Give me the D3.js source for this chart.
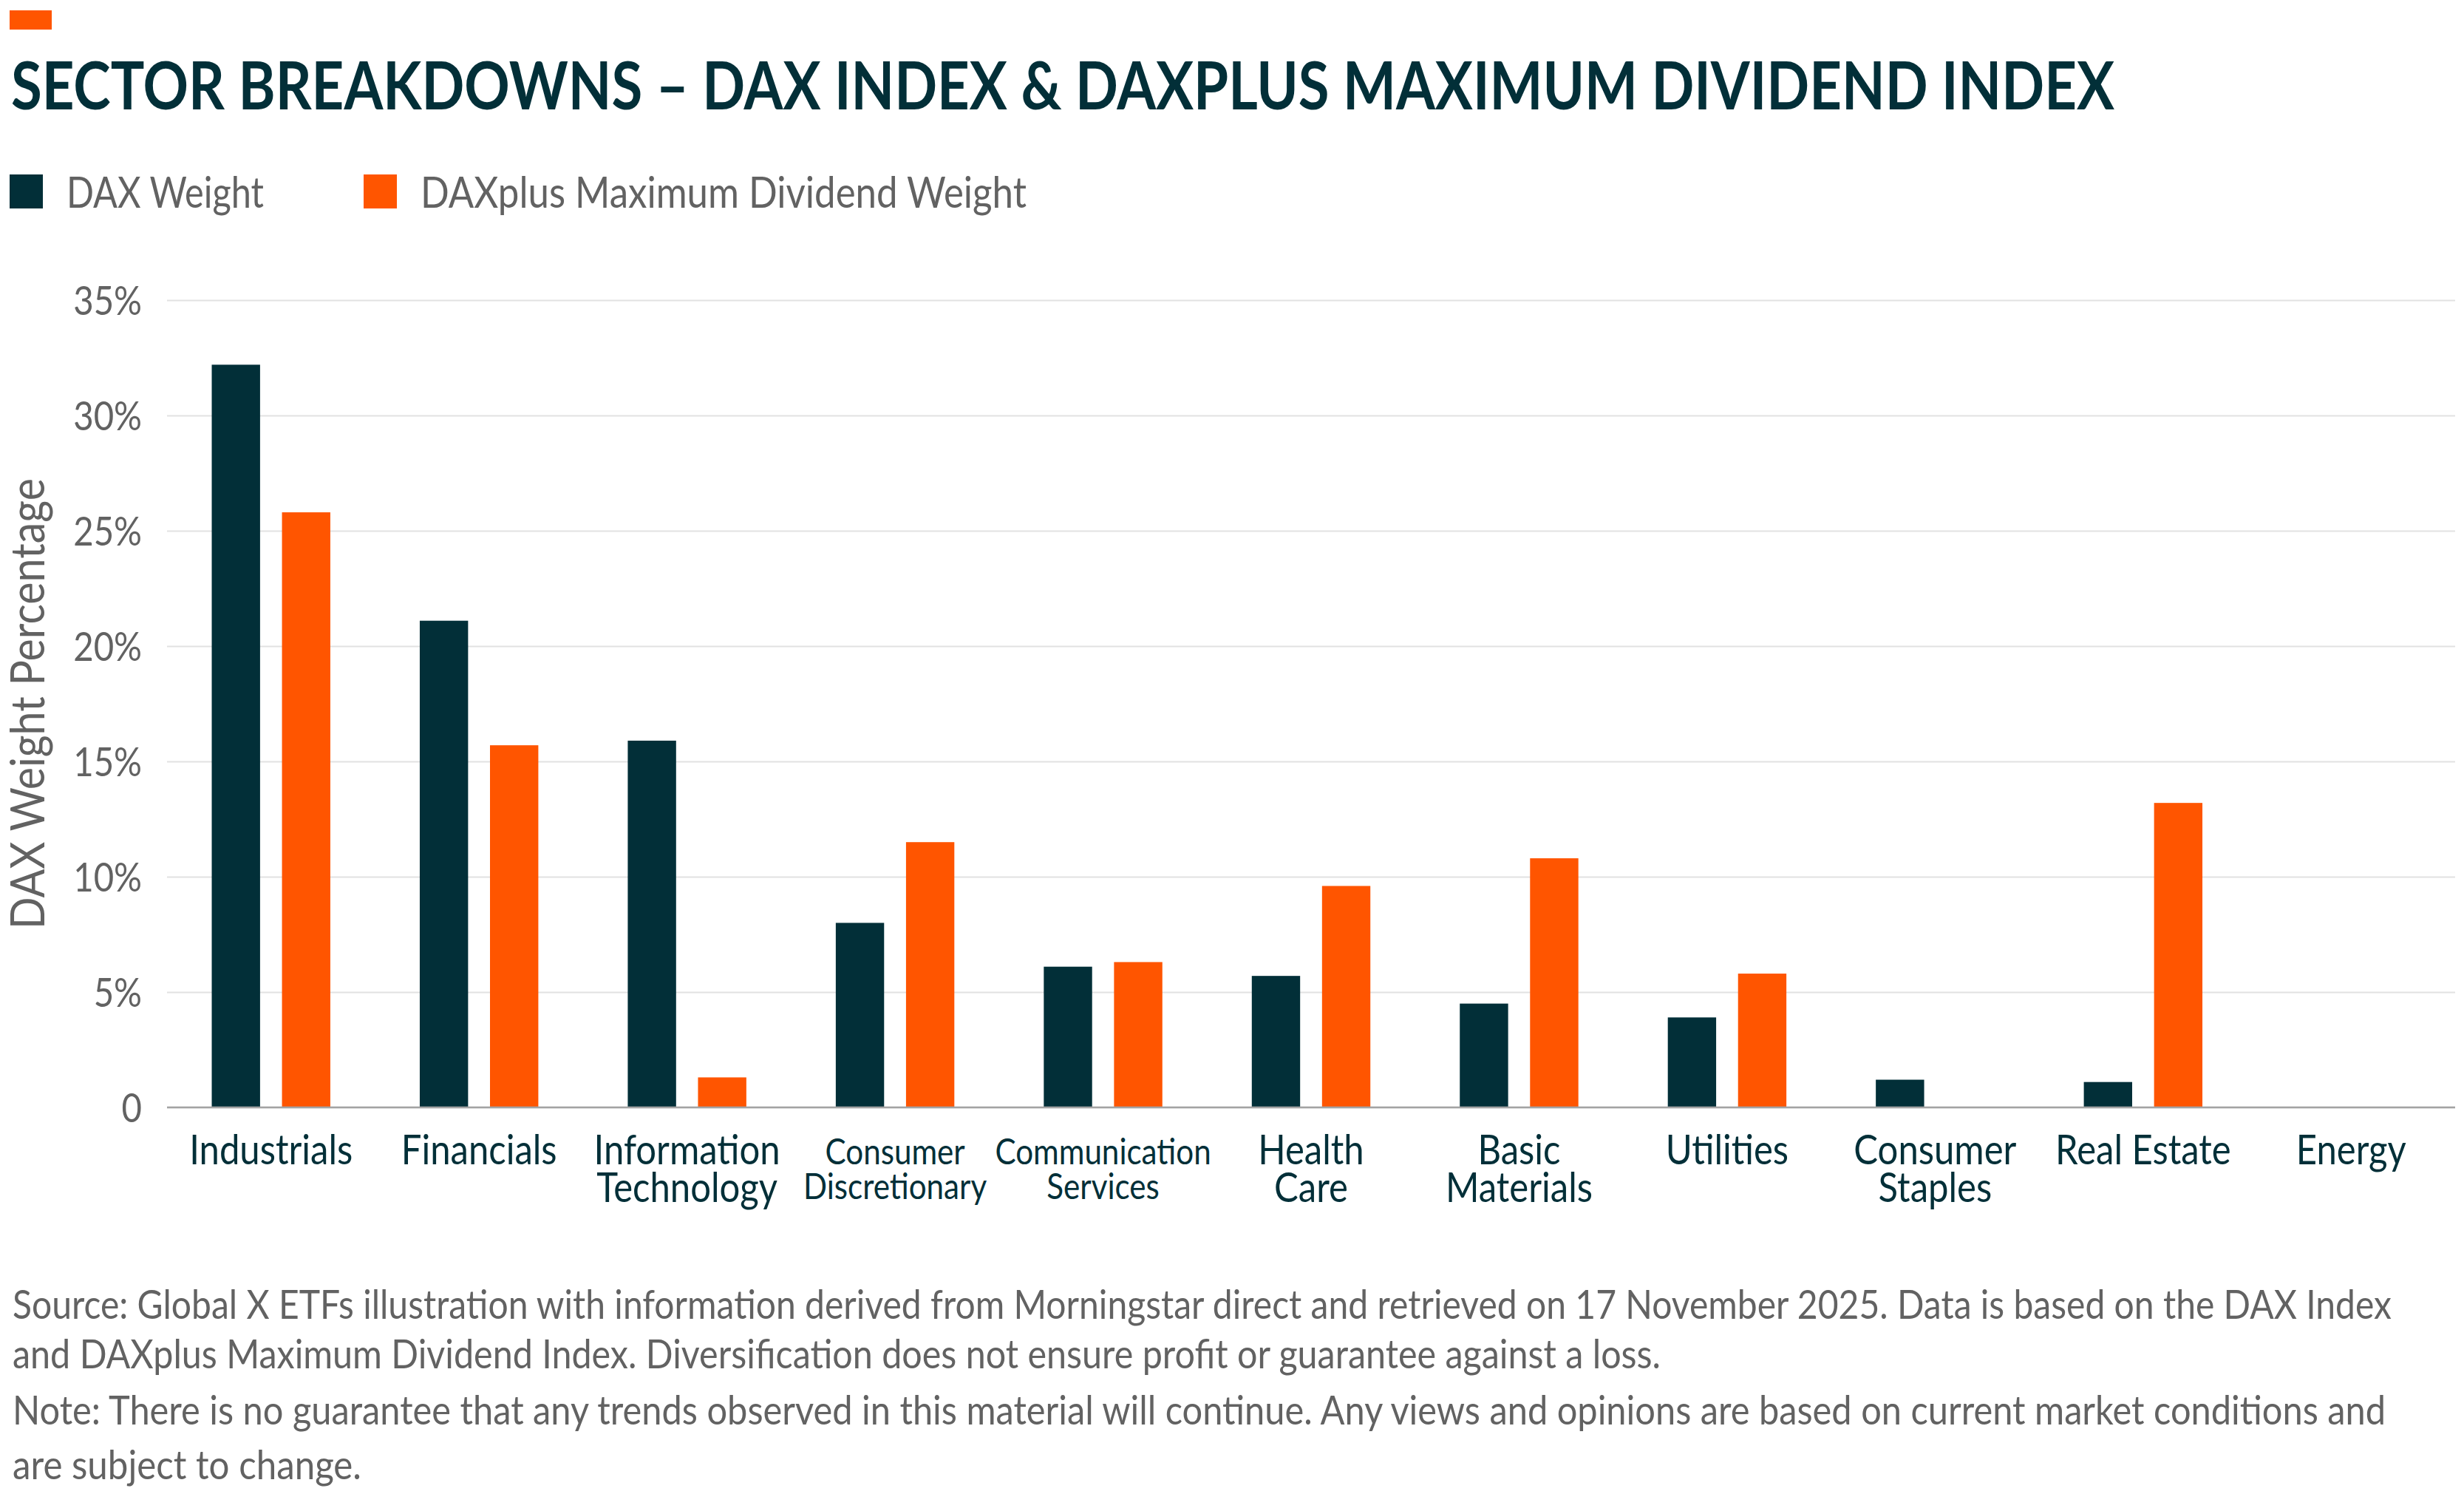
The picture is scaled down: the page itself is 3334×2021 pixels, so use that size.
<!DOCTYPE html>
<html>
<head>
<meta charset="utf-8">
<script src="https://cdn.jsdelivr.net/npm/d3@7"></script>
<style>
  body { margin: 0; background: #fff; }
  text { font-family: Lato, "Open Sans", sans-serif; }
</style>
</head>
<body>
<div id="chart"></div>
<script>
// data
var categories = ["Industrials", "Financials", "Information Technology", "Consumer Discretionary",
  "Communication Services", "Health Care", "Basic Materials", "Utilities", "Consumer Staples",
  "Real Estate", "Energy"];
var categoryLines = [["Industrials"], ["Financials"], ["Information", "Technology"], ["Consumer", "Discretionary"],
  ["Communication", "Services"], ["Health", "Care"], ["Basic", "Materials"], ["Utilities"], ["Consumer", "Staples"],
  ["Real Estate"], ["Energy"]];
var daxWeight = [32.2, 21.1, 15.9, 8.0, 6.1, 5.7, 4.5, 3.9, 1.2, 1.1, 0];
var maxDivWeight = [25.8, 15.7, 1.3, 11.5, 6.3, 9.6, 10.8, 5.8, 0, 13.2, 0];
var seriesNames = ["DAX Weight", "DAXplus Maximum Dividend Weight"];
var yTicks = [0, 5, 10, 15, 20, 25, 30, 35];

var title = "SECTOR BREAKDOWNS \u2013 DAX INDEX & DAXPLUS MAXIMUM DIVIDEND INDEX";
var footLines = [
  "Source: Global X ETFs illustration with information derived from Morningstar direct and retrieved on 17 November 2025. Data is based on the DAX Index",
  "and DAXplus Maximum Dividend Index. Diversification does not ensure profit or guarantee against a loss.",
  "Note: There is no guarantee that any trends observed in this material will continue. Any views and opinions are based on current market conditions and",
  "are subject to change."
];

var W = 3334, H = 2021;
var dark = "#022f38", orange = "#ff5500", grey = "#626262";
var plot = {left: 226, right: 3322, top: 406, bottom: 1498};

// the reference font runs narrower than Lato, squeeze text to fit
function squeeze(sel, k) {
  sel.each(function() {
    var w = this.getComputedTextLength();
    d3.select(this).attr("textLength", w * k).attr("lengthAdjust", "spacingAndGlyphs");
  });
}
function fitTo(sel, w) {
  sel.attr("textLength", w).attr("lengthAdjust", "spacingAndGlyphs");
}

var svg = d3.select("#chart").append("svg")
  .attr("width", W).attr("height", H)
  .style("background", "#fff");

// orange accent and title
svg.append("rect").attr("x", 13).attr("y", 14).attr("width", 57).attr("height", 26).attr("fill", orange);
svg.append("text").attr("x", 15).attr("y", 148)
  .attr("font-size", 89).attr("font-weight", 700).attr("fill", dark)
  .text(title).call(fitTo, 2846);

// legend
var legendX = [13, 492], legendW = [267, 820];
var colors = [dark, orange];
seriesNames.forEach(function(s, i) {
  svg.append("rect").attr("x", legendX[i]).attr("y", 236).attr("width", 45).attr("height", 46).attr("fill", colors[i]);
  svg.append("text").attr("x", legendX[i] + 77).attr("y", 281)
    .attr("font-size", 58).attr("fill", grey).text(s).call(fitTo, legendW[i]);
});

// scales
var x0 = d3.scaleBand().domain(categories).range([plot.left, plot.right])
  .paddingInner(0.43).paddingOuter(0.215);
var x1 = d3.scaleBand().domain(seriesNames).range([0, x0.bandwidth()]).paddingInner(0.312);
var y = d3.scaleLinear().domain([0, 35]).range([plot.bottom, plot.top]);

// y axis with gridlines
var yAxis = d3.axisLeft(y).tickValues(yTicks)
  .tickSize(-(plot.right - plot.left)).tickPadding(34)
  .tickFormat(function(d) { return d === 0 ? "0" : d + "%"; });
var gy = svg.append("g").attr("transform", "translate(" + plot.left + ",0)").call(yAxis);
gy.select(".domain").remove();
gy.selectAll(".tick line").attr("stroke", "#e2e2e2").attr("stroke-width", 2);
gy.selectAll(".tick text").attr("font-size", 55).attr("fill", grey)
  .attr("font-family", "Lato, sans-serif").attr("dy", "0.35em").call(squeeze, 0.86);

// y title
svg.append("text")
  .attr("transform", "translate(60," + ((plot.top + plot.bottom) / 2) + ") rotate(-90)")
  .attr("text-anchor", "middle").attr("font-size", 64).attr("fill", grey)
  .text("DAX Weight Percentage").call(fitTo, 610);

// bars
var rows = categories.map(function(c, i) {
  return {cat: c, values: [daxWeight[i], maxDivWeight[i]]};
});
var groups = svg.append("g").selectAll("g").data(rows).join("g")
  .attr("transform", function(d) { return "translate(" + x0(d.cat) + ",0)"; });
groups.selectAll("rect")
  .data(function(d) { return d.values.map(function(v, j) { return {s: seriesNames[j], v: v, j: j}; }); })
  .join("rect")
  .attr("x", function(d) { return x1(d.s); })
  .attr("y", function(d) { return y(d.v); })
  .attr("width", x1.bandwidth())
  .attr("height", function(d) { return y(0) - y(d.v); })
  .attr("fill", function(d) { return colors[d.j]; });

// baseline
svg.append("line").attr("x1", plot.left).attr("x2", plot.right)
  .attr("y1", y(0)).attr("y2", y(0)).attr("stroke", "#a3a3a3").attr("stroke-width", 2.5);

// category labels
var xAxis = d3.axisBottom(x0).tickSize(0).tickFormat("");
var gx = svg.append("g").attr("transform", "translate(0," + y(0) + ")").call(xAxis);
gx.select(".domain").remove();
var smallOnes = ["Consumer Discretionary", "Communication Services"];
gx.selectAll(".tick").each(function(d, i) {
  var small = smallOnes.indexOf(d) >= 0;
  var t = d3.select(this).append("text")
    .attr("text-anchor", "middle").attr("fill", dark)
    .attr("font-size", small ? 49 : 57)
    .attr("font-family", "Lato, sans-serif");
  categoryLines[i].forEach(function(line, k) {
    t.append("tspan").attr("x", 0)
      .attr("y", 77 + k * (small ? 47 : 51))
      .text(line);
  });
  t.selectAll("tspan").call(squeeze, 0.86);
});

// footnotes
var footY = [1784, 1851, 1927, 2001];
var footW = [3219, 2230, 3211, 472];
footLines.forEach(function(l, i) {
  svg.append("text").attr("x", 17).attr("y", footY[i])
    .attr("font-size", 55).attr("fill", grey).text(l).call(fitTo, footW[i]);
});
</script>
</body>
</html>
